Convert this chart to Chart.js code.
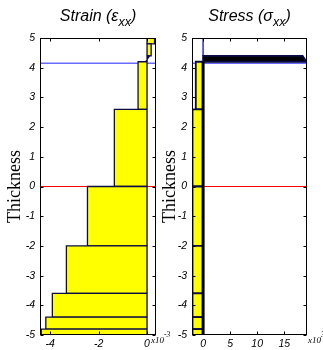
<!DOCTYPE html>
<html>
<head>
<meta charset="utf-8">
<script src="https://cdn.jsdelivr.net/npm/chart.js@4.4.0/dist/chart.umd.min.js"></script>
<style>
  html, body { margin: 0; padding: 0; background: #fff; }
  #wrap { position: relative; width: 323px; height: 350px; overflow: hidden; }
  canvas { position: absolute; top: 0; }
  #strainChart { left: 0; }
  #stressChart { left: 155px; }
</style>
</head>
<body>
<div id="wrap">
  <canvas id="strainChart" width="175" height="350"></canvas>
  <canvas id="stressChart" width="168" height="350"></canvas>
</div>
<script>
// Ply stack through the thickness, listed bottom to top
const plyBottom = [-5.0, -4.8, -4.4, -3.6, -2.0, 0.0, 2.6, 4.2, 4.4, 4.8];
const plyTop    = [-4.8, -4.4, -3.6, -2.0, 0.0, 2.6, 4.2, 4.4, 4.8, 5.0];

// Strain (x10^-3) on the lower and upper face of each ply
const strainBottom = [-4.37, -4.18, -3.91, -3.33, -2.46, -1.35, -0.37, -0.06, 0.17, 0.31];
const strainTop    = [-4.37, -4.18, -3.91, -3.33, -2.46, -1.35, -0.37,  0.10, 0.17, 0.31];

// Stress (x10^3) on the lower and upper face of each ply
const stressBottom = [-1.95, -1.95, -1.95, -1.95, -1.95, -1.95, -1.35, 19.1, 0, 0];
const stressTop    = [-1.95, -1.95, -1.95, -1.95, -1.95, -1.95, -1.35, 18.4, 0, 0];

// Axis ranges and tick labels
const thicknessRange = [-5, 5];
const thicknessTicks = [-5, -4, -3, -2, -1, 0, 1, 2, 3, 4, 5];
const strainRange = [-4.42, 0.37];
const strainTicks = [-4, -2, 0];
const stressRange = [-2.05, 19.2];
const stressTicks = [0, 5, 10, 15];

// Reference levels: mid-plane and marked interface
const midPlane = 0;
const markedLevel = 4.15;

const YELLOW = '#ffff00';
const EDGE = '#0b0b45';

// one closed outline per ply, running from zero out to the value and back
function plyOutline(i, lower, upper) {
  const zb = plyBottom[i], zt = plyTop[i];
  return [
    { x: 0, y: zb }, { x: lower[i], y: zb },
    { x: upper[i], y: zt }, { x: 0, y: zt }, { x: 0, y: zb }
  ];
}

function plyDatasets(lower, upper, edgeWidth) {
  return plyBottom.map((zb, i) => {
    // plies whose value changes across the ply are densely hatched (solid dark)
    const graded = lower[i] !== upper[i];
    const unloaded = lower[i] === 0 && upper[i] === 0;
    return {
      data: plyOutline(i, lower, upper),
      showLine: true, fill: 'shape', tension: 0,
      pointRadius: 0, pointHoverRadius: 0,
      backgroundColor: graded ? '#000000' : YELLOW,
      borderColor: unloaded ? '#3a3ad8' : EDGE,
      borderWidth: unloaded ? 1.6 : edgeWidth,
      order: 1
    };
  });
}

function levelLine(level, range, color, width) {
  return {
    data: [{ x: range[0], y: level }, { x: range[1], y: level }],
    showLine: true, fill: false, pointRadius: 0, pointHoverRadius: 0,
    borderColor: color, borderWidth: width, order: 3
  };
}

// frame, inward tick marks, title with subscript and axis multiplier
const framePlugin = {
  id: 'frame',
  afterDraw(chart, args, o) {
    const { ctx, chartArea: a, scales } = chart;
    const L = Math.round(a.left) + 0.5, R = Math.round(a.right) - 0.5;
    const T = Math.round(a.top) + 0.5, B = Math.round(a.bottom) - 0.5;
    ctx.save();
    ctx.strokeStyle = '#000';
    ctx.lineWidth = 1;
    ctx.strokeRect(L, T, R - L, B - T);
    const tl = 3;
    ctx.beginPath();
    scales.x.ticks.forEach(t => {
      const px = Math.round(scales.x.getPixelForValue(t.value)) + 0.5;
      ctx.moveTo(px, B); ctx.lineTo(px, B - tl);
      ctx.moveTo(px, T); ctx.lineTo(px, T + tl);
    });
    scales.y.ticks.forEach(t => {
      const py = Math.round(scales.y.getPixelForValue(t.value)) + 0.5;
      ctx.moveTo(L, py); ctx.lineTo(L + tl, py);
      ctx.moveTo(R, py); ctx.lineTo(R - tl, py);
    });
    ctx.stroke();

    // title: main text, greek symbol, subscript, closing bracket
    const parts = [
      { text: o.title, font: 'italic 16px "Liberation Sans"', dy: 0 },
      { text: o.symbol, font: 'italic 16px "Liberation Sans"', dy: 0 },
      { text: 'xx', font: 'italic 12.5px "Liberation Sans"', dy: 5 },
      { text: ')', font: 'italic 16px "Liberation Sans"', dy: 0 }
    ];
    let total = 0;
    parts.forEach(p => { ctx.font = p.font; p.w = ctx.measureText(p.text).width; total += p.w; });
    let x = (a.left + a.right) / 2 - total / 2;
    ctx.fillStyle = '#000';
    ctx.textBaseline = 'alphabetic';
    ctx.textAlign = 'left';
    parts.forEach(p => { ctx.font = p.font; ctx.fillText(p.text, x, 21 + p.dy); x += p.w; });

    // multiplier next to the last x tick
    let ex = a.right + o.expOffset;
    ctx.font = 'italic 9px "Liberation Serif"';
    ctx.fillText('x10', ex, 343);
    ex += ctx.measureText('x10').width;
    ctx.font = 'italic 7.5px "Liberation Serif"';
    ctx.fillText(o.exponent, ex, 337);
    ctx.restore();
  }
};

const tickFont = { family: 'Liberation Sans', size: 10.5, style: 'italic' };

function makeChart(id, cfg) {
  return new Chart(document.getElementById(id), {
    type: 'scatter',
    data: { datasets: cfg.datasets },
    options: {
      responsive: false,
      animation: false,
      devicePixelRatio: 1,
      events: [],
      layout: { padding: { top: 38, right: cfg.padRight, left: 0, bottom: 0 } },
      plugins: {
        legend: { display: false },
        tooltip: { enabled: false },
        frame: { title: cfg.title, symbol: cfg.symbol, exponent: cfg.exponent, expOffset: cfg.expOffset }
      },
      scales: {
        x: {
          type: 'linear', min: cfg.xRange[0], max: cfg.xRange[1],
          grid: { display: false, drawTicks: false }, border: { display: false },
          afterFit: s => { s.height = 15; },
          afterBuildTicks: s => { s.ticks = cfg.xTicks.map(v => ({ value: v })); },
          ticks: { font: tickFont, color: '#000', padding: 3, maxRotation: 0, autoSkip: false,
                   callback: v => String(v) }
        },
        y: {
          type: 'linear', min: thicknessRange[0], max: thicknessRange[1],
          grid: { display: false, drawTicks: false }, border: { display: false },
          afterFit: s => { s.width = cfg.axisWidth; },
          afterBuildTicks: s => { s.ticks = thicknessTicks.map(v => ({ value: v })); },
          ticks: { font: tickFont, color: '#000', padding: 5, autoSkip: false,
                   callback: v => String(v) },
          title: { display: true, text: 'Thickness', color: '#000',
                   font: { family: 'Liberation Serif', size: 18 }, padding: { top: 4, bottom: 0 } }
        }
      }
    },
    plugins: [framePlugin]
  });
}

// strain panel
makeChart('strainChart', {
  title: 'Strain (', symbol: 'ε', exponent: '-3', expOffset: -5,
  xRange: strainRange, xTicks: strainTicks, axisWidth: 40, padRight: 19,
  datasets: [
    ...plyDatasets(strainBottom, strainTop, 1.3),
    levelLine(midPlane, strainRange, '#ff0000', 1),
    levelLine(markedLevel, strainRange, '#6a6aff', 1.5)
  ]
});

// stress panel: compressive plies share a heavy edge along zero
const loadedTop = Math.max(...plyTop.filter((z, i) => stressBottom[i] < 0));
makeChart('stressChart', {
  title: 'Stress (', symbol: 'σ', exponent: '3', expOffset: 1,
  xRange: stressRange, xTicks: stressTicks, axisWidth: 37, padRight: 16,
  datasets: [
    ...plyDatasets(stressBottom, stressTop, 1.8),
    {
      data: [{ x: 0, y: plyBottom[0] }, { x: 0, y: loadedTop }],
      showLine: true, fill: false, pointRadius: 0, pointHoverRadius: 0,
      borderColor: '#000000', borderWidth: 3, order: 0
    },
    levelLine(midPlane, stressRange, '#ff0000', 1),
    levelLine(markedLevel, stressRange, '#6a6aff', 1.5)
  ]
});
</script>
</body>
</html>
